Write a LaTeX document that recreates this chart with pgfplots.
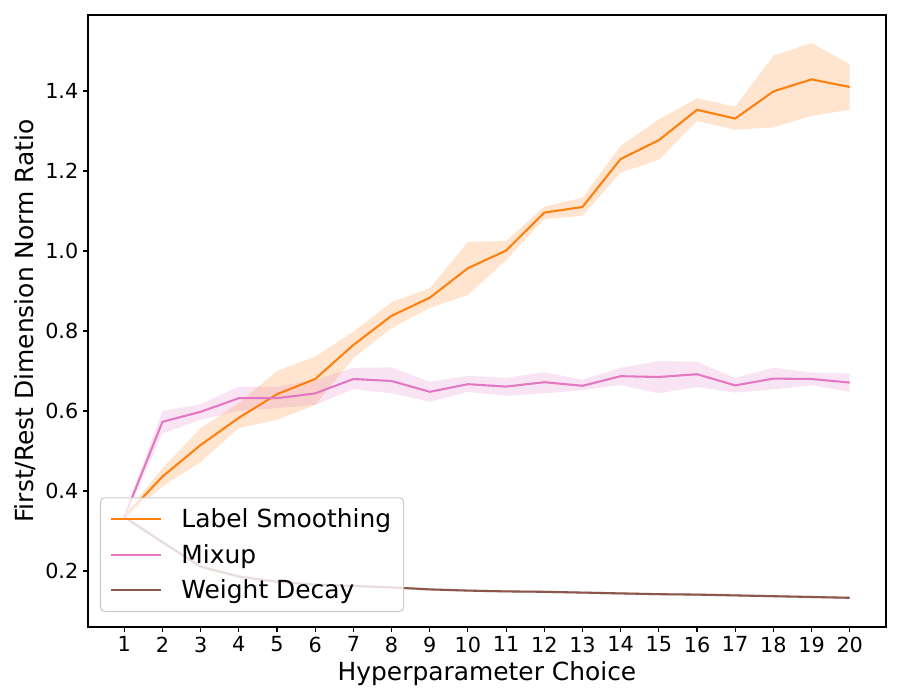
\documentclass[border=0pt]{standalone}
\usepackage{fontspec}
\setmainfont{DejaVu Sans}
\usepackage{pgfplots}
\usepackage{pgfplotstable}
\pgfplotsset{compat=1.18}
\usepgfplotslibrary{fillbetween}
\definecolor{tabor}{HTML}{FF7F0E}
\definecolor{tabpk}{HTML}{E377C2}
\definecolor{tabbr}{HTML}{8C564B}
\definecolor{legedge}{HTML}{CCCCCC}

\pgfplotstableread{
x mean lo hi
1 0.335 0.330 0.340
2 0.436 0.411 0.457
3 0.515 0.473 0.557
4 0.583 0.557 0.620
5 0.642 0.578 0.700
6 0.680 0.615 0.736
7 0.765 0.732 0.798
8 0.838 0.807 0.872
9 0.883 0.858 0.907
10 0.957 0.890 1.023
11 1.001 0.977 1.025
12 1.096 1.080 1.111
13 1.110 1.088 1.133
14 1.230 1.196 1.263
15 1.277 1.228 1.329
16 1.353 1.325 1.382
17 1.331 1.303 1.361
18 1.399 1.309 1.488
19 1.429 1.338 1.520
20 1.410 1.353 1.467
}\tabLS

\pgfplotstableread{
x mean lo hi
1 0.335 0.330 0.340
2 0.573 0.544 0.600
3 0.598 0.578 0.617
4 0.632 0.600 0.661
5 0.632 0.607 0.661
6 0.644 0.615 0.678
7 0.680 0.655 0.708
8 0.675 0.644 0.709
9 0.648 0.623 0.673
10 0.667 0.648 0.688
11 0.661 0.638 0.683
12 0.672 0.644 0.697
13 0.663 0.652 0.678
14 0.687 0.665 0.708
15 0.685 0.644 0.725
16 0.692 0.660 0.723
17 0.664 0.646 0.683
18 0.681 0.654 0.708
19 0.680 0.664 0.696
20 0.671 0.648 0.694
}\tabMU

\pgfplotstableread{
x mean lo hi
1 0.335 0.331 0.339
2 0.272 0.267 0.277
3 0.211 0.206 0.216
4 0.186 0.182 0.190
5 0.173 0.170 0.176
6 0.166 0.163 0.169
7 0.1625 0.160 0.165
8 0.159 0.156 0.162
9 0.154 0.151 0.157
10 0.151 0.148 0.154
11 0.149 0.146 0.152
12 0.148 0.145 0.151
13 0.146 0.143 0.149
14 0.144 0.141 0.147
15 0.142 0.139 0.145
16 0.141 0.138 0.144
17 0.139 0.136 0.142
18 0.137 0.134 0.140
19 0.135 0.132 0.138
20 0.133 0.130 0.136
}\tabWD

\begin{document}
\begin{tikzpicture}
\begin{axis}[
  at={(0.88in,0.73in)}, anchor=south west,
  scale only axis, width=7.98in, height=6.12in,
  xmin=0.05, xmax=20.95, ymin=0.06, ymax=1.59,
  xtick={1,...,20},
  ytick={0.2,0.4,0.6,0.8,1.0,1.2,1.4},
  yticklabel style={/pgf/number format/fixed,/pgf/number format/fixed zerofill,/pgf/number format/precision=1},
  /pgf/number format/assume math mode=true,
  tick align=outside, tick pos=left,
  major tick length=3.5pt,
  every tick/.style={black, line width=0.8pt},
  axis line style={line width=0.8pt},
  ticklabel style={font=\fontsize{15}{18}\selectfont},
  xlabel={Hyperparameter Choice},
  ylabel={First/Rest Dimension Norm Ratio},
  label style={font=\fontsize{18}{21}\selectfont},
  xlabel style={yshift=0pt},
  ylabel style={yshift=0pt},
  legend style={at={(0.015,0.0245)}, anchor=south west,
    font=\fontsize{18}{21}\selectfont,
    draw=legedge, line width=0.8pt, rounded corners=3pt, fill=white, fill opacity=0.8, text opacity=1,
    row sep=6.3pt, inner xsep=7pt, inner ysep=6pt,
    /tikz/every odd column/.append style={column sep=12pt}},
  legend cell align=left,
  legend image code/.code={\draw[#1] (0pt,0pt) -- (36pt,0pt);},
]
\addplot[name path=lsh, draw=none, forget plot] table[x=x,y=hi] {\tabLS};
\addplot[name path=lsl, draw=none, forget plot] table[x=x,y=lo] {\tabLS};
\addplot[fill=tabor, fill opacity=0.2, draw=none, forget plot] fill between[of=lsh and lsl];
\addplot[name path=muh, draw=none, forget plot] table[x=x,y=hi] {\tabMU};
\addplot[name path=mul, draw=none, forget plot] table[x=x,y=lo] {\tabMU};
\addplot[fill=tabpk, fill opacity=0.2, draw=none, forget plot] fill between[of=muh and mul];
\addplot[name path=wdh, draw=none, forget plot] table[x=x,y=hi] {\tabWD};
\addplot[name path=wdl, draw=none, forget plot] table[x=x,y=lo] {\tabWD};
\addplot[fill=tabbr, fill opacity=0.2, draw=none, forget plot] fill between[of=wdh and wdl];
\addplot[tabor, line width=1.5pt] table[x=x,y=mean] {\tabLS};
\addplot[tabpk, line width=1.5pt] table[x=x,y=mean] {\tabMU};
\addplot[tabbr, line width=1.5pt] table[x=x,y=mean] {\tabWD};
\legend{Label Smoothing, Mixup, Weight Decay}
\end{axis}
\path (0,0) rectangle (9in,7in);
\end{tikzpicture}
\end{document}
